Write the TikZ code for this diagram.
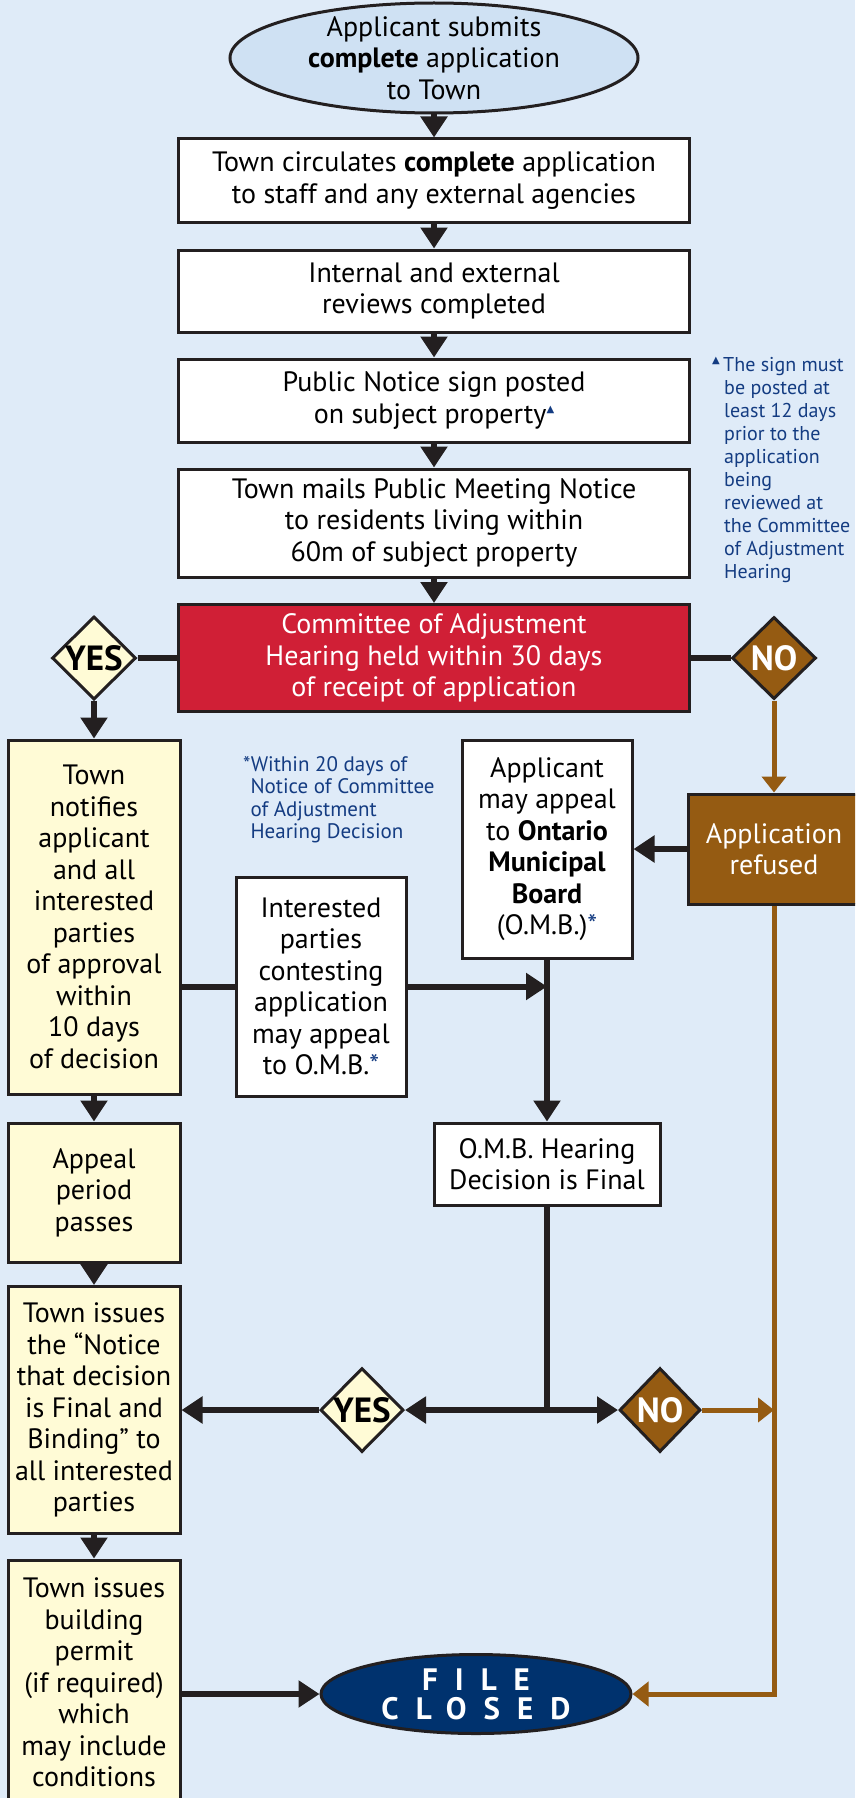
\documentclass[tikz,border=0pt]{standalone}
\usepackage{fontspec}
\setmainfont{PT Sans}
\newfontfamily\notefont{PT Sans}
\newfontfamily\symfont{DejaVu Sans}
\usetikzlibrary{shapes.geometric,arrows.meta}

\definecolor{bgblue}{HTML}{DFEBF8}
\definecolor{ovalblue}{HTML}{CFE1F3}
\definecolor{paleyellow}{HTML}{FFFBD6}
\definecolor{hearingred}{HTML}{D01F36}
\definecolor{brownc}{HTML}{955B12}
\definecolor{navy}{HTML}{00326E}
\definecolor{noteblue}{HTML}{143C82}
\definecolor{linek}{HTML}{231F20}

\newcommand{\signmark}{\raisebox{0.4em}{\symfont\fontsize{10}{10}\selectfont\color{noteblue}▲}}
\newcommand{\notestar}{{\color{noteblue}*}}

\begin{document}
\begin{tikzpicture}[x=1pt, y=-1pt,
  txt/.style={align=center, font=\fontsize{28}{31.5}\selectfont},
  box/.style={txt, draw=linek, line width=3pt, fill=white, inner sep=0pt},
  ybox/.style={box, fill=paleyellow, minimum width=172pt},
  redbox/.style={box, fill=hearingred, text=white},
  brownbox/.style={box, fill=brownc, text=white},
  oval/.style={ellipse, draw=linek, line width=3pt, inner sep=0pt},
  yesdia/.style={diamond, draw=linek, line width=3pt, fill=paleyellow, inner sep=0pt,
    minimum width=84pt, minimum height=82pt, font=\fontsize{35}{35}\selectfont\bfseries},
  nodia/.style={yesdia, fill=brownc, text=white},
  note/.style={align=left, text=noteblue, inner sep=0pt},
  link/.style={draw=linek, line width=6pt},
  arr/.style={link, -{Triangle[width=26pt,length=21pt]}},
  brownarr/.style={draw=brownc, line width=5pt, -{Triangle[width=24pt,length=16pt]}}
]

% page
\fill[bgblue] (0,0) rectangle (855,1798);
\useasboundingbox (0,0) rectangle (855,1798);
\clip (0,0) rectangle (855,1798);

% main column
\node[oval, fill=ovalblue, minimum width=408pt, minimum height=110pt,
  label={[txt]center:{Applicant submits\\\textbf{complete} application\\to Town}}] (start) at (434,58) {};
\node[box, minimum width=511pt, minimum height=83pt] (circ) at (434,180.5)
  {Town circulates \textbf{complete} application\\to staff and any external agencies};
\node[box, minimum width=511pt, minimum height=82pt] (reviews) at (434,291)
  {Internal and external\\reviews completed};
\node[box, minimum width=511pt, minimum height=83pt] (sign) at (434,400.5)
  {Public Notice sign posted\\on subject property\signmark};
\node[box, minimum width=511pt, minimum height=108pt] (mails) at (434,523)
  {Town mails Public Meeting Notice\\to residents living within\\60m of subject property};
\node[redbox, minimum width=511pt, minimum height=107pt] (hearing) at (434,658)
  {Committee of Adjustment\\Hearing held within 30 days\\of receipt of application};

\draw[arr] (start) -- (circ);
\draw[arr] (circ) -- (reviews);
\draw[arr] (reviews) -- (sign);
\draw[arr] (sign) -- (mails);
\draw[arr] (mails) -- (hearing);

% decision after hearing
\node[yesdia] (yesA) at (94,658) {YES};
\node[nodia] (noA) at (774,658) {NO};
\draw[link] (yesA) -- (hearing);
\draw[link] (hearing) -- (noA);

% left column
\node[ybox, minimum height=354pt] (notify) at (94,917)
  {Town\\notifies\\applicant\\and all\\interested\\parties\\of approval\\within\\10 days\\of decision};
\node[ybox, minimum height=139pt] (appeal) at (94,1192.5) {Appeal\\period\\passes};
\node[ybox, minimum height=247pt] (notice) at (94,1410)
  {Town issues\\the ``Notice\\that decision\\is Final and\\Binding'' to\\all interested\\parties};
\node[ybox, minimum height=245pt] (permit) at (94,1682.5)
  {Town issues\\building\\permit\\(if required)\\which\\may include\\conditions};

\draw[arr] (yesA) -- (notify);
\draw[arr] (notify) -- (appeal);
\draw[arr] (appeal) -- (notice);
\draw[arr] (notice) -- (permit);

% appeals
\node[box, minimum width=170pt, minimum height=219pt] (contest) at (321,986.5)
  {Interested\\parties\\contesting\\application\\may appeal\\to O.M.B.\notestar};
\node[box, minimum width=170pt, minimum height=218pt] (applicant) at (547,849)
  {Applicant\\may appeal\\to \textbf{Ontario}\\\textbf{Municipal}\\\textbf{Board}\\(O.M.B.)\notestar};
\node[brownbox, minimum width=172pt, minimum height=110pt] (refused) at (774,849)
  {Application\\refused};
\node[box, minimum width=226pt, minimum height=82pt] (omb) at (547,1164)
  {O.M.B. Hearing\\Decision is Final};

\draw[brownarr] (noA) -- (refused);
\draw[arr] (refused) -- (applicant);
\draw[link] (contest.west) -- (contest.west -| notify.east);
\draw[arr] (contest.east) -- (contest.east -| applicant.south);
\draw[arr] (applicant) -- (omb);

% decision after O.M.B.
\node[yesdia, minimum width=81pt, minimum height=84pt] (yesB) at (362,1410) {YES};
\node[nodia, minimum width=81pt, minimum height=84pt] (noB) at (660,1410) {NO};
\coordinate (split) at (omb.south |- yesB);
\draw[link] (omb) -- (split);
\draw[arr] (split) -- (yesB);
\draw[arr] (split) -- (noB);
\draw[arr] (yesB) -- (yesB.west -| notice.east);
\draw[brownarr] (noB) -- (noB.east -| refused.south);

% end
\node[oval, fill=navy, minimum width=310pt, minimum height=79pt,
  label={[align=center, text=white, font=\notefont\bfseries\fontsize{31}{29}\selectfont\addfontfeatures{LetterSpace=55}]center:{FILE\\CLOSED}}] (closed) at (476,1694) {};
\draw[arr] (permit.east |- closed.west) -- (closed.west);
\draw[brownarr] (refused) |- (closed);

% footnotes
\node[note, anchor=north west, font=\fontsize{21}{22.5}\selectfont] (ombnote) at (243,756)
  {*Within 20 days of\\\phantom{*}Notice of Committee\\\phantom{*}of Adjustment\\\phantom{*}Hearing Decision};
\node[note, anchor=north west, font=\notefont\fontsize{20}{23}\selectfont] (signnote) at (712,357)
  {\signmark\,The sign must\\\hspace*{12pt}be posted at\\\hspace*{12pt}least 12 days\\\hspace*{12pt}prior to the\\\hspace*{12pt}application\\\hspace*{12pt}being\\\hspace*{12pt}reviewed at\\\hspace*{12pt}the Committee\\\hspace*{12pt}of Adjustment\\\hspace*{12pt}Hearing};

\end{tikzpicture}
\end{document}
